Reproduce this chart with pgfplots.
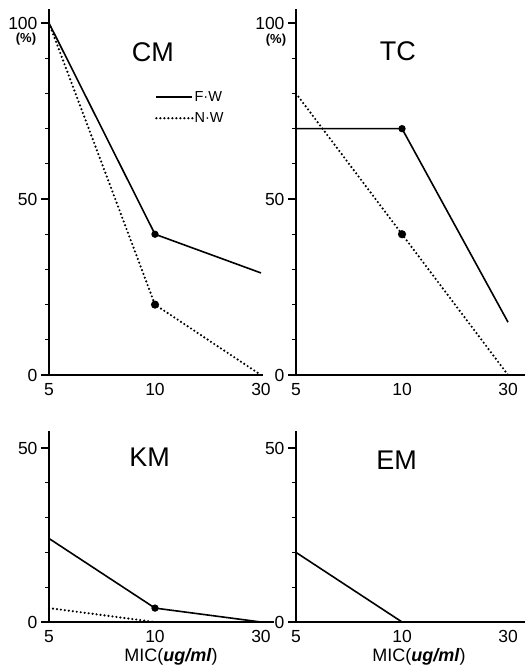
\documentclass[border=0pt]{standalone}
\usepackage{fontspec}
\setmainfont{Liberation Sans}
\usepackage{pgfplots}
\pgfplotsset{compat=1.18}
\begin{document}
\begin{tikzpicture}[x=1pt,y=1pt]
\path[use as bounding box] (0,0) rectangle (531,-666);
\tikzset{ttl/.style={font=\fontsize{27}{27}\selectfont}}
\pgfplotsset{
 panel/.style={
  scale only axis,
  axis lines=left,
  axis line style={line width=1.8pt, -},
  xmin=0, ymin=0,
  xtick={0,1,2}, xticklabels={5,10,30},
  x tick style={draw=none},
  tick label style={font=\fontsize{17.5}{17.5}\selectfont},
  xticklabel style={yshift=3pt},
  /pgf/number format/assume math mode=true,
  y tick style={line width=1.2pt, black},
  tick align=outside,
  major tick length=8pt,
  minor tick length=4pt,
  clip=false,
  anchor=south west,
 },
 toppanel/.style={panel, ymax=104, height=366pt, ytick={0,50,100}, minor ytick={10,20,...,90}},
 botpanel/.style={panel, ymax=55, height=191.4pt, ytick={0,50}, minor ytick={10,20,30,40},
   xlabel={MIC(\textbf{\textit{ug/ml}})},
   xlabel style={font=\fontsize{18}{18}\selectfont, anchor=center}},
 fw/.style={black, line width=1.6pt, mark options={solid, fill=black}, mark size=2.8pt},
 nw/.style={black, line width=2.4pt, line cap=round, dash pattern=on 0pt off 4pt, mark options={solid, fill=black}, mark size=2.8pt},
}
% CM
\begin{axis}[toppanel, at={(49pt,-375pt)}, width=214.1pt, xmax=2.02,
  legend style={draw=none, fill=none, at={(axis cs:1.0,76)}, anchor=west,
    font=\fontsize{14.5}{14.5}\selectfont, row sep=8pt, inner sep=0pt,
    nodes={inner sep=1pt}},
  legend cell align=left,
  legend image code/.code={\draw[#1, mark=none] (0pt,0pt) -- (36pt,0pt);}]
\addplot[fw, mark=*, mark indices={2}] coordinates {(0,100) (1,40) (2,29)};
\addlegendentry{F·W}
\addplot[nw, mark=*, mark indices={2}] coordinates {(0,100) (1,20) (2,0)};
\addlegendentry{N·W}
\node[ttl] at (axis cs:0.98,91.8) {CM};
\node[font=\fontsize{13}{13}\selectfont\bfseries] at (axis cs:0,100) [xshift=-23pt, yshift=-16pt] {(\%)};
\end{axis}
% TC
\begin{axis}[toppanel, at={(296pt,-375pt)}, width=229pt, xmax=2.16]
\addplot[fw, mark=*, mark indices={2}] coordinates {(0,70) (1,70) (2,15)};
\addplot[nw, mark=*, mark indices={2}] coordinates {(0,80) (1,40) (2,0)};
\node[ttl] at (axis cs:0.96,92) {TC};
\node[font=\fontsize{13}{13}\selectfont\bfseries] at (axis cs:0,100) [xshift=-20pt, yshift=-17pt] {(\%)};
\end{axis}
% KM
\begin{axis}[botpanel, at={(49pt,-622pt)}, width=224.7pt, xmax=2.12,
  xlabel style={at={(axis description cs:0.543,0)}, yshift=-35pt}]
\addplot[fw, mark=*, mark indices={2}] coordinates {(0,24) (1,4) (2,0)};
\addplot[nw] coordinates {(0,4) (1,0)};
\node[ttl] at (axis cs:0.95,47.4) {KM};
\end{axis}
% EM
\begin{axis}[botpanel, at={(296pt,-622pt)}, width=229pt, xmax=2.16,
  xlabel style={at={(axis description cs:0.537,0)}, yshift=-35pt}]
\addplot[fw] coordinates {(0,20) (1,0)};
\node[ttl] at (axis cs:0.95,46.5) {EM};
\end{axis}
\end{tikzpicture}
\end{document}
